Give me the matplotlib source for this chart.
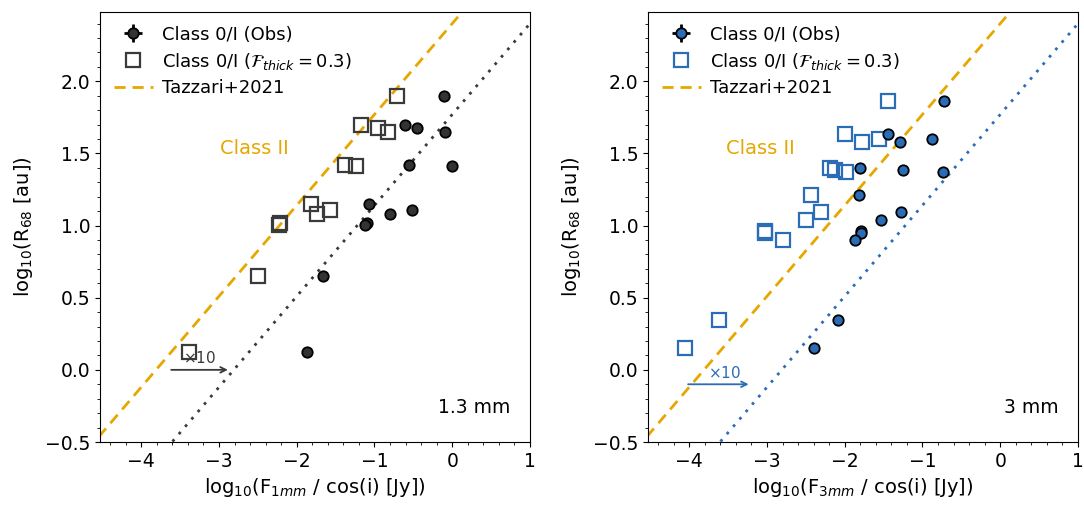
import numpy as np
import matplotlib
matplotlib.use("Agg")
import matplotlib.pyplot as plt
from matplotlib.ticker import MultipleLocator

# 1.3 mm panel: log10 flux (obs), log10 flux (model F_thick=0.3), log10 R68
flux_obs_1mm = [-0.11, -0.61, -0.455, -0.09, -0.55, -0.006, -1.07, -0.805,
                -0.523, -1.10, -1.12, -1.656, -1.874]
flux_mod_1mm = [-0.711, -1.177, -0.955, -0.822, -1.376, -1.24, -1.815, -1.738,
                -1.566, -2.217, -2.23, -2.495, -3.39]
r68_1mm = [1.90, 1.695, 1.677, 1.647, 1.423, 1.414, 1.150, 1.077,
           1.111, 1.021, 1.003, 0.652, 0.121]

# 3 mm panel
flux_obs_3mm = [-0.725, -1.44, -0.879, -1.29, -1.80, -1.25, -0.738, -1.82,
                -1.28, -1.535, -1.79, -1.79, -1.864, -2.087, -2.396]
flux_mod_3mm = [-1.44, -2.0, -1.564, -1.775, -2.19, -2.12, -1.99, -2.43,
                -2.31, -2.50, -3.02, -3.02, -2.80, -3.62, -4.06]
r68_3mm = [1.864, 1.635, 1.60, 1.582, 1.397, 1.388, 1.368, 1.21,
           1.095, 1.04, 0.959, 0.95, 0.899, 0.345, 0.153]

# Tazzari+2021 relation
taz_slope = 0.63
taz_icpt = 2.40

ORANGE = "#e6a700"
GREY = "#3a3a3a"
BLUE = "#2a6cb5"

fig = plt.figure(figsize=(10.84, 5.07), dpi=100)
ax1 = fig.add_axes([100 / 1084, 65 / 507, 430 / 1084, 430 / 507])
ax2 = fig.add_axes([648 / 1084, 65 / 507, 430 / 1084, 430 / 507])


def panel(ax, fobs, fmod, r68, col, fill, band, arrow, txt_xy):
    xx = np.linspace(-5, 2, 50)
    ax.plot(xx, taz_slope * xx + taz_icpt, ls=(0, (4, 2.5)), color=ORANGE,
            lw=2, label="Tazzari+2021", zorder=1)
    ax.plot(xx, taz_slope * (xx - 1) + taz_icpt, ls=(0, (1, 2.5)), color=col,
            lw=2, zorder=1)
    ax.plot(fmod, r68, ls="none", marker="s", ms=10, mfc="none", mec=col,
            mew=1.6, label=r"Class 0/I ($\mathcal{F}_{thick} = 0.3$)", zorder=2)
    ax.errorbar(fobs, r68, xerr=np.zeros(len(r68)), yerr=np.zeros(len(r68)),
                fmt="o", ms=7.5, mfc=fill, mec="k", mew=1.3, ecolor="k",
                elinewidth=2, capsize=0, label="Class 0/I (Obs)", zorder=3)
    ax.annotate("", xy=(arrow[1], arrow[2]), xytext=(arrow[0], arrow[2]),
                arrowprops=dict(arrowstyle="->", color=col, lw=1.3))
    ax.text(txt_xy[0], txt_xy[1], r"$\times$10", color=col, fontsize=11,
            ha="center", va="bottom")
    ax.text(txt_xy[2], 1.536, "Class II", color=ORANGE, fontsize=14,
            ha="center", va="center")
    ax.text(0.955, 0.08, band, transform=ax.transAxes, fontsize=13.5,
            ha="right", va="center")
    ax.set_xlim(-4.53, 1)
    ax.set_ylim(-0.5, 2.48)
    ax.xaxis.set_major_locator(MultipleLocator(1))
    ax.xaxis.set_minor_locator(MultipleLocator(0.2))
    ax.yaxis.set_major_locator(MultipleLocator(0.5))
    ax.yaxis.set_minor_locator(MultipleLocator(0.1))
    ax.tick_params(labelsize=13.5)
    ax.set_ylabel(r"log$_{10}$(R$_{68}$ [au])", fontsize=14, labelpad=7)
    h, l = ax.get_legend_handles_labels()
    want = ["Class 0/I (Obs)", r"Class 0/I ($\mathcal{F}_{thick} = 0.3$)",
            "Tazzari+2021"]
    idx = [l.index(w) for w in want]
    ax.legend([h[i] for i in idx], [l[i] for i in idx], loc="upper left",
              frameon=False, fontsize=13, handlelength=2.2, handletextpad=0.5,
              borderaxespad=0.35, labelspacing=0.4)


panel(ax1, flux_obs_1mm, flux_mod_1mm, r68_1mm, GREY, "#333333", "1.3 mm",
      (-3.65, -2.85, 0.0), (-3.25, 0.03, -2.55))
panel(ax2, flux_obs_3mm, flux_mod_3mm, r68_3mm, BLUE, BLUE, "3 mm",
      (-4.05, -3.2, -0.1), (-3.55, -0.08, -3.08))
ax1.set_xlabel(r"log$_{10}$(F$_{1mm}$ / cos(i) [Jy])", fontsize=14)
ax2.set_xlabel(r"log$_{10}$(F$_{3mm}$ / cos(i) [Jy])", fontsize=14)

fig.savefig("out.png", dpi=100)
